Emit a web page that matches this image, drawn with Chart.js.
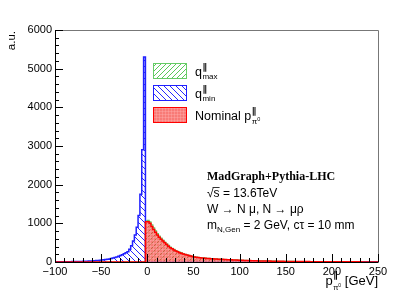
<!DOCTYPE html>
<html><head><meta charset="utf-8">
<script src="https://cdn.jsdelivr.net/npm/chart.js@4"></script>
<style>html,body{margin:0;padding:0;background:#fff}#wrap{width:420px;height:302px}</style>
</head><body><div id="wrap"><canvas id="c" width="420" height="302"></canvas></div>
<script>
// ---------------- data ----------------
const binWidth = 2;            // GeV per bin
const xMin = -100, xMax = 250; // histogram range
const yMin = 0, yMax = 6000;
const xTickStep = 50, yTickStep = 1000;
const seriesNames = ['q_max', 'q_min', 'Nominal'];

// q_min (blue): bins from -100 to 0 GeV
const qMinNeg = [4,4,5,5,6,6,7,7,8,9,10,11,12,13,14,16,18,20,22,24,
                 26,29,32,36,40,45,50,56,63,70,
                 80,92,105,118,132,148,168,190,215,240,
                 265,330,420,540,700,900,1200,1750,2900,5300];
// q_max (green): bins from 0 to 250 GeV
const qMaxPos = [1060,1075,1040,960,880,805,735,670,615,565,515,470,428,388,356,325,298,274,253,234,216,200,186,172,160,148,138,129,121,114,
                 109,105,101,97,93,89,86,83,80,77,74,70,67,64,62,59,57,55,53,51,
                 49,47,45,43,41,39,37,36,34,33,32,30,29,28,27,26,25,24,23,22,21,20,19,18,17,
                 17,16,15,15,14,14,13,13,12,12,11,11,10,10,10,9,9,9,8,8,8,7,7,7,7,
                 6,6,6,6,6,5,5,5,5,5,5,4,4,4,4,4,4,4,3,3,3,3,3,3,3];
// Nominal (red): bins from 0 to 250 GeV
const nominalPos = [1040,1040,1000,920,840,770,700,640,590,540,495,450,410,370,340,310,285,262,242,224,207,192,178,165,153,142,132,124,116,110,
                    105,101,97,93,90,86,83,80,77,74,71,68,65,62,60,57,55,53,51,49,
                    47,45,43,41,40,38,36,35,33,32,31,29,28,27,26,25,24,23,22,21,20,19,18,17,17,
                    16,15,15,14,14,13,13,12,12,11,11,10,10,10,9,9,9,8,8,8,7,7,7,7,6,
                    6,6,6,6,5,5,5,5,5,5,4,4,4,4,4,4,4,3,3,3,3,3,3,3,3];

const nNeg = (0 - xMin) / binWidth, nPos = (xMax - 0) / binWidth;
const zerosNeg = new Array(nNeg).fill(0), zerosPos = new Array(nPos).fill(0);

function steps(values) {
  const pts = values.map((v, i) => ({x: xMin + i * binWidth, y: v}));
  pts.push({x: xMax, y: 0});
  return pts;
}

// ---------------- styles ----------------
const SANS = '"Liberation Sans", Arial, sans-serif';
const SERIF = '"Liberation Serif", "Times New Roman", serif';
const canvas = document.getElementById('c');
const mainCtx = canvas.getContext('2d');
function makePattern(w, h, draw) {
  const c = document.createElement('canvas'); c.width = w; c.height = h;
  const g = c.getContext('2d'); draw(g, w, h);
  return mainCtx.createPattern(c, 'repeat');
}
const bluePat = makePattern(6, 6, (g, w, h) => {
  g.strokeStyle = 'rgba(40,40,255,1)'; g.lineWidth = 1;
  for (const x0 of [-w, 0, w]) { g.beginPath(); g.moveTo(x0, 0); g.lineTo(x0 + w, h); g.stroke(); }
});
const greenPat = makePattern(5, 5, (g, w, h) => {
  g.strokeStyle = 'rgba(90,200,90,1)'; g.lineWidth = 1;
  for (const x0 of [-w, 0, w]) { g.beginPath(); g.moveTo(x0, h); g.lineTo(x0 + w, 0); g.stroke(); }
});
const redPat = makePattern(3, 3, (g, w, h) => {
  g.fillStyle = 'rgba(245,60,55,0.68)'; g.fillRect(0, 0, w, h);
  g.fillStyle = 'rgba(255,190,190,0.3)'; g.fillRect(0, 0, w, 1); g.fillRect(0, 0, 1, h);
});

// ---------------- helpers ----------------
function segFont(s) { return (s.bold ? 'bold ' : '') + s.size + 'px ' + (s.family || SANS); }
function richWidth(ctx, segs) {
  let cx = 0, maxx = 0;
  for (const s of segs) { ctx.font = segFont(s); const w = ctx.measureText(s.t).width + (s.dx || 0);
    maxx = Math.max(maxx, cx + w); if (!s.stay) cx += w; }
  return Math.max(cx, maxx);
}
function drawRich(ctx, x, y, segs) {
  let cx = x;
  for (const s of segs) {
    ctx.font = segFont(s); ctx.fillStyle = s.color || '#000';
    ctx.textAlign = 'left'; ctx.textBaseline = 'alphabetic';
    ctx.fillText(s.t, cx + (s.dx || 0), y + (s.dy || 0));
    const w = ctx.measureText(s.t).width + (s.dx || 0);
    if (!s.stay) cx += w;
  }
  return cx;
}
const PAR = '\u2225';
const PARF = '"DejaVu Sans", sans-serif';

// ---------------- plugins ----------------
const framePlugin = {
  id: 'frame',
  afterDatasetsDraw(chart) {
    const ctx = chart.ctx, a = chart.chartArea, xs = chart.scales.x, ys = chart.scales.y;
    ctx.save();
    ctx.lineWidth = 1;
    ctx.strokeStyle = '#777';
    ctx.beginPath(); ctx.moveTo(a.left, a.top + 0.5); ctx.lineTo(a.right + 0.5, a.top + 0.5);
    ctx.lineTo(a.right + 0.5, a.bottom); ctx.stroke();
    ctx.strokeStyle = '#000';
    ctx.beginPath(); ctx.moveTo(a.left + 0.5, a.top); ctx.lineTo(a.left + 0.5, a.bottom + 0.5);
    ctx.lineTo(a.right + 0.5, a.bottom + 0.5); ctx.stroke();
    ctx.beginPath();
    for (let v = yMin; v <= yMax; v += yTickStep / 5) {
      const py = Math.round(ys.getPixelForValue(v)) + 0.5;
      const len = (v % yTickStep === 0) ? 8 : 4;
      ctx.moveTo(a.left, py); ctx.lineTo(a.left + len, py);
    }
    for (let v = xMin; v <= xMax; v += xTickStep / 5) {
      const px = Math.round(xs.getPixelForValue(v)) + 0.5;
      const len = (v % xTickStep === 0) ? 8 : 4;
      ctx.moveTo(px, a.bottom); ctx.lineTo(px, a.bottom - len);
    }
    ctx.stroke();
    ctx.restore();
  },
  afterDraw(chart) {
    const ctx = chart.ctx;
    const ds = chart.data.datasets;
    ctx.save();
    const boxes = [
      {d: ds[2], y: 63, segs: [{t: 'q', size: 12.5}, {t: PAR, size: 9, bold: true, family: PARF, dy: -6, stay: true, dx: 0.5}, {t: 'max', size: 8, dy: 3, dx: 0.5}]},
      {d: ds[1], y: 85, segs: [{t: 'q', size: 12.5}, {t: PAR, size: 9, bold: true, family: PARF, dy: -6, stay: true, dx: 0.5}, {t: 'min', size: 8, dy: 3, dx: 0.5}]},
      {d: ds[0], y: 107, segs: [{t: 'Nominal p', size: 12.5}, {t: PAR, size: 9, bold: true, family: PARF, dy: -6, stay: true, dx: 0.5}, {t: '\u03c0', size: 8, dy: 4, dx: 0.5}, {t: '0', size: 5.5, dy: 1}]}
    ];
    for (const b of boxes) {
      ctx.fillStyle = '#fff'; ctx.fillRect(153, b.y, 34, 16);
      ctx.fillStyle = b.d.backgroundColor; ctx.fillRect(153, b.y, 34, 16);
      ctx.strokeStyle = b.d.borderColor; ctx.lineWidth = 1; ctx.strokeRect(153.5, b.y + 0.5, 33, 15);
      drawRich(ctx, 195, b.y + 12.5, b.segs);
    }
    drawRich(ctx, 207, 180, [{t: 'MadGraph+Pythia-LHC', size: 12, bold: true, family: SERIF}]);
    ctx.font = '12px ' + SANS;
    const sqW = ctx.measureText('\u221a').width, sW = ctx.measureText('s').width;
    drawRich(ctx, 207, 197, [{t: '\u221as = 13.6TeV', size: 12}]);
    ctx.strokeStyle = '#000'; ctx.lineWidth = 0.8;
    ctx.beginPath(); ctx.moveTo(207 + sqW - 1, 187.5); ctx.lineTo(207 + sqW + sW, 187.5); ctx.stroke();
    drawRich(ctx, 207, 213, [{t: 'W \u2192 N \u03bc, N \u2192 \u03bc\u03c1', size: 12}]);
    drawRich(ctx, 207, 229, [{t: 'm', size: 12}, {t: 'N,Gen', size: 8, dy: 3}, {t: ' = 2 GeV, c\u03c4 = 10 mm', size: 12}]);
    ctx.save();
    ctx.translate(15, 31); ctx.rotate(-Math.PI / 2);
    ctx.font = '11.5px ' + SANS; ctx.fillStyle = '#000'; ctx.textAlign = 'right'; ctx.textBaseline = 'alphabetic';
    ctx.fillText('a.u.', 0, 0);
    ctx.restore();
    const xt = [{t: 'p', size: 13}, {t: PAR, size: 9, bold: true, family: PARF, dy: -7, stay: true, dx: 0.5}, {t: '\u03c0', size: 7.5, dy: 5, dx: 0.5}, {t: '0', size: 5, dy: 2}, {t: ' [GeV]', size: 13}];
    const w = richWidth(ctx, xt);
    drawRich(ctx, 378 - w, 285, xt);
    ctx.restore();
  }
};

// ---------------- chart ----------------
new Chart(canvas, {
  type: 'line',
  data: {
    datasets: [
      {label: seriesNames[2], data: steps(zerosNeg.concat(nominalPos)), stepped: 'after', fill: 'origin',
       borderColor: '#ff0000', backgroundColor: redPat, borderWidth: 1.5, pointRadius: 0, order: 0},
      {label: seriesNames[1], data: steps(qMinNeg.concat(zerosPos)), stepped: 'after', fill: 'origin',
       borderColor: '#2020ff', backgroundColor: bluePat, borderWidth: 1.5, pointRadius: 0, order: 1},
      {label: seriesNames[0], data: steps(zerosNeg.concat(qMaxPos)), stepped: 'after', fill: 'origin',
       borderColor: '#66cc66', backgroundColor: greenPat, borderWidth: 1.2, pointRadius: 0, order: 2}
    ]
  },
  options: {
    responsive: false, animation: false, events: [],
    layout: {padding: {top: 30, right: 42, left: 0, bottom: 0}},
    plugins: {legend: {display: false}, tooltip: {enabled: false}},
    scales: {
      x: {type: 'linear', min: xMin, max: xMax,
          grid: {display: false, drawTicks: false}, border: {display: false},
          ticks: {stepSize: xTickStep, autoSkip: false, maxRotation: 0, padding: 3, color: '#000',
                  font: {family: SANS, size: 11},
                  callback: v => (v < 0 ? '\u2212' + Math.abs(v) : String(v))},
          afterFit: s => { s.height = 40; }},
      y: {min: yMin, max: yMax,
          grid: {display: false, drawTicks: false}, border: {display: false},
          ticks: {stepSize: yTickStep, padding: 3, color: '#000', font: {family: SANS, size: 11},
                  callback: v => String(v)},
          afterFit: s => { s.width = 55; }}
    }
  },
  plugins: [framePlugin]
});
</script>
</body></html>
